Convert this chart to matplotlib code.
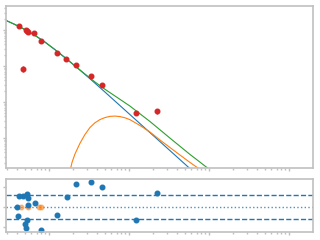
import numpy as np
import matplotlib
matplotlib.use("Agg")
import matplotlib.pyplot as plt

# observed flux points (x, y, relative error)
obs_x = [4.25, 5.16, 5.38, 5.47, 6.55, 8.01, 12.7, 16.5, 21.9, 33.8, 46.4, 4.73, 123, 226]
obs_y = [131.6, 100, 90.9, 85.1, 80.9, 48.5, 22.5, 15.3, 10.5, 5.18, 2.91, 8.41, 0.485, 0.552]
obs_err = [0.08, 0.08, 0.08, 0.08, 0.08, 0.08, 0.08, 0.08, 0.08, 0.08, 0.08, 0.18, 0.08, 0.18]

# model components
blue_x = [2.901, 3.758, 5.012, 6.683, 8.913, 11.885, 15.85, 21.13, 28.18, 37.58, 50.12,
          66.83, 102.9, 183.0, 325.5, 578.8]
blue_y = [183.6, 141.3, 102.3, 70.57, 45.97, 28.37, 17.01, 10.03, 5.826, 3.328, 1.884,
          1.059, 0.4467, 0.1413, 0.04467, 0.01413]

orange_x = [18.57, 19.39, 21.13, 24.40, 28.18, 32.54, 37.58, 43.40, 50.12, 57.88, 66.83,
            77.18, 89.13, 102.9, 137.3, 183.0, 244.1, 325.5, 434.0, 578.8, 771.8]
orange_y = [0.01377, 0.02086, 0.03594, 0.07129, 0.1251, 0.1957, 0.2644, 0.3245, 0.3687,
            0.3981, 0.4058, 0.3930, 0.3640, 0.3225, 0.2224, 0.1468, 0.08799, 0.05446,
            0.03371, 0.02100, 0.01342]

green_x = [2.901, 3.758, 5.012, 6.683, 8.913, 11.885, 15.85, 21.13, 28.18, 37.58, 50.12,
           66.83, 102.9, 183.0, 325.5, 578.8, 771.8, 1029]
green_y = [183.6, 141.3, 102.3, 70.57, 45.97, 28.37, 17.01, 10.06, 5.957, 3.594, 2.253,
           1.468, 0.7696, 0.2872, 0.09937, 0.03503, 0.02141, 0.01304]

# residuals
res_x = [4.02, 4.13, 4.25, 4.77, 5.06, 5.21, 5.26, 5.35, 5.51, 5.51, 6.63, 8.01, 12.7,
         16.6, 21.9, 33.5, 46.4, 123, 226]
res_y = [0.0, -0.225, 0.283, 0.283, -0.425, -0.525, -0.325, 0.325, 0.225, 0.05, 0.1, -0.575,
         -0.2, 0.258, 0.575, 0.625, 0.5, -0.325, 0.35]
lim_x = [4.43, 5.51, 7.56, 7.94]
lim_y = [0.0, 0.0, 0.0, 0.0]

spine_col = "#c0c0c0"

fig = plt.figure(figsize=(3.2, 2.4), dpi=100)
ax = fig.add_axes([0.01875, 0.30125, 0.959, 0.674])
axr = fig.add_axes([0.01875, 0.0333, 0.959, 0.221], sharex=ax)

ax.plot(blue_x, blue_y, color="#1f77b4", lw=0.8)
ax.plot(orange_x, orange_y, color="#ff7f0e", lw=0.8)
ax.plot(green_x, green_y, color="#2ca02c", lw=0.8)
ax.errorbar(obs_x, obs_y, yerr=np.array(obs_err) * np.array(obs_y), fmt="o",
            color="#d62728", ms=3.3, elinewidth=1, capsize=0)

ax.set_xscale("log")
ax.set_yscale("log")
ax.set_xlim(2.90, 19953)
ax.set_ylim(0.01496, 464)

axr.axhline(0.3, color="#1f77b4", ls="--", lw=1)
axr.axhline(-0.3, color="#1f77b4", ls="--", lw=1)
axr.axhline(0.0, color="#1f77b4", ls=":", lw=1, alpha=0.8)
axr.plot(lim_x, lim_y, "o", color="#ff7f0e", ms=3.3, alpha=0.5)
axr.plot(res_x, res_y, "o", color="#1f77b4", ms=3.3)
axr.set_ylim(-0.6175, 0.7075)
axr.set_yticks([-0.5, 0, 0.5])

for a in (ax, axr):
    for s in a.spines.values():
        s.set_color(spine_col)
        s.set_linewidth(1.2)
    a.tick_params(which="both", colors=spine_col, labelleft=False, labelbottom=False,
                  length=2, width=1)
    a.tick_params(which="minor", length=1.5)

fig.savefig("out.png", dpi=100)
